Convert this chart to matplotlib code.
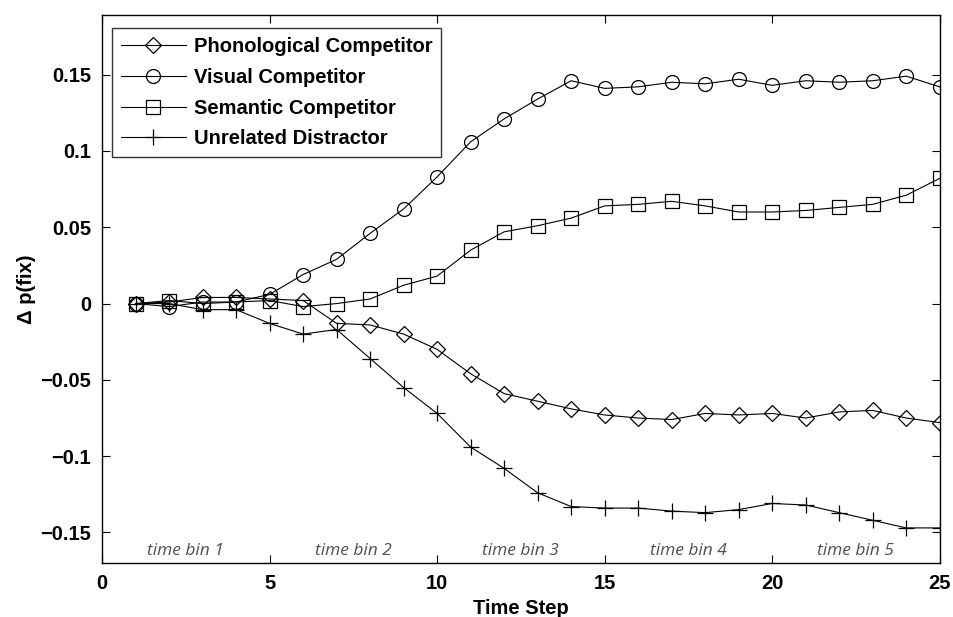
import matplotlib
matplotlib.use("Agg")
import matplotlib.pyplot as plt
import numpy as np

plt.rcParams['font.family'] = ['Liberation Sans', 'DejaVu Sans']

steps = np.arange(1, 26)

phonological = [0, 0.001, 0.004, 0.004, 0.003, 0.002, -0.013, -0.014, -0.020, -0.030,
                -0.046, -0.059, -0.064, -0.069, -0.073, -0.075, -0.076, -0.072, -0.073, -0.072,
                -0.075, -0.071, -0.070, -0.075, -0.078]
visual = [0, -0.002, 0.001, 0.001, 0.006, 0.019, 0.029, 0.046, 0.062, 0.083,
          0.106, 0.121, 0.134, 0.146, 0.141, 0.142, 0.145, 0.144, 0.147, 0.143,
          0.146, 0.145, 0.146, 0.149, 0.142]
semantic = [0, 0.002, 0.000, 0.001, 0.002, -0.002, 0.000, 0.003, 0.012, 0.018,
            0.035, 0.047, 0.051, 0.056, 0.064, 0.065, 0.067, 0.064, 0.060, 0.060,
            0.061, 0.063, 0.065, 0.071, 0.082]
unrelated = [0, 0, -0.004, -0.004, -0.013, -0.020, -0.017, -0.036, -0.055, -0.072,
             -0.094, -0.108, -0.124, -0.133, -0.134, -0.134, -0.136, -0.137, -0.135, -0.131,
             -0.132, -0.137, -0.142, -0.147, -0.147]

series_labels = ['Phonological Competitor', 'Visual Competitor',
                 'Semantic Competitor', 'Unrelated Distractor']
bin_labels = ['time bin 1', 'time bin 2', 'time bin 3', 'time bin 4', 'time bin 5']
bin_centers = [2.5, 7.5, 12.5, 17.5, 22.5]

fig = plt.figure(figsize=(9.54, 6.17), dpi=100)
ax = fig.add_axes([0.107, 0.0875, 0.878, 0.888])

style = dict(color='black', linewidth=0.8, markerfacecolor='none',
             markeredgecolor='black', markeredgewidth=0.9)
ax.plot(steps, phonological, marker='D', markersize=8, label=series_labels[0], **style)
ax.plot(steps, visual, marker='o', markersize=10, label=series_labels[1], **style)
ax.plot(steps, semantic, marker='s', markersize=9.5, label=series_labels[2], **style)
ax.plot(steps, unrelated, marker='+', markersize=11, label=series_labels[3], **style)

for c, lab in zip(bin_centers, bin_labels):
    ax.text(c, -0.162, lab, ha='center', va='center', fontsize=12.5,
            style='italic', color='#505050', family=['Open Sans', 'DejaVu Sans'])

ax.set_xlim(0, 25)
ax.set_ylim(-0.17, 0.189)
ax.set_xticks([0, 5, 10, 15, 20, 25])
ax.set_yticks([-0.15, -0.1, -0.05, 0, 0.05, 0.1, 0.15])
ax.set_yticklabels(['\u22120.15', '\u22120.1', '\u22120.05', '0', '0.05', '0.1', '0.15'])
ax.tick_params(direction='in', length=6, width=0.8, top=True, right=True,
               labelsize=14.5, pad=8)
for lbl in ax.get_xticklabels() + ax.get_yticklabels():
    lbl.set_fontweight('bold')
for sp in ax.spines.values():
    sp.set_linewidth(1.0)

ax.set_xlabel('Time Step', fontsize=14.5, fontweight='bold', labelpad=4)
ax.set_ylabel('\u0394 p(fix)', fontsize=14.5, fontweight='bold', labelpad=3)

leg = ax.legend(loc='upper left', bbox_to_anchor=(0.012, 0.976),
                prop={'weight': 'bold', 'size': 14.5}, frameon=True, fancybox=False,
                edgecolor='black', handlelength=3.2, borderpad=0.45,
                labelspacing=0.58, handletextpad=0.4, borderaxespad=0)
leg.get_frame().set_linewidth(1.0)

fig.savefig('out.png', dpi=100)
